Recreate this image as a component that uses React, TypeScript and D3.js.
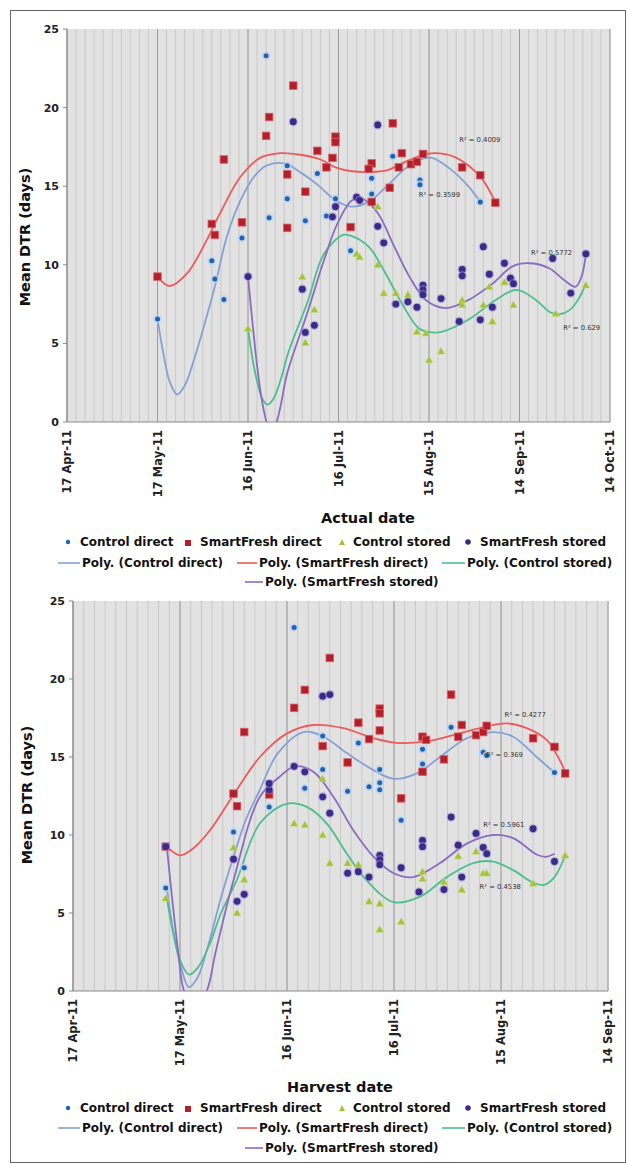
import React from 'react';
import * as d3 from 'd3';

// ---------- shared axis data ----------
const START = new Date(2011, 3, 17); // 17 Apr 2011
const topTickLabels = ['17 Apr-11', '17 May-11', '16 Jun-11', '16 Jul-11', '15 Aug-11', '14 Sep-11', '14 Oct-11'];
const bottomTickLabels = ['17 Apr-11', '17 May-11', '16 Jun-11', '16 Jul-11', '15 Aug-11', '14 Sep-11'];
const yTicks = [0, 5, 10, 15, 20, 25];
const seriesNames = ['Control direct', 'SmartFresh direct', 'Control stored', 'SmartFresh stored'];

// ---------- Actual date chart (days after 17 Apr 2011, mean DTR) ----------
const actualControlDirect = [[30,6.55],[48,10.25],[49,9.1],[52,7.8],[58,11.7],[66,23.3],[67,13.0],[73,16.3],[73,14.2],[79,12.8],[83,15.8],[86,13.1],[89,14.2],[94,10.9],[101,15.5],[101,14.5],[108,16.9],[117,15.4],[117,15.1],[137,14.0]];
const actualSmartDirect = [[30,9.25],[48,12.6],[49,11.9],[52,16.7],[58,12.7],[66,18.2],[67,19.4],[75,21.4],[73,15.75],[73,12.35],[79,14.65],[83,17.25],[86,16.2],[88,16.8],[89,18.15],[89,17.8],[94,12.4],[101,16.45],[100,16.1],[101,14.0],[107,14.9],[108,19.0],[110,16.2],[111,17.1],[114,16.4],[116,16.55],[118,17.05],[131,16.2],[137,15.7],[142,13.95]];
const actualControlStored = [[60,5.95],[78,9.25],[79,5.05],[82,7.15],[96,10.7],[97,10.5],[103,13.7],[103,10.0],[105,8.2],[109,8.2],[113,8.1],[116,5.75],[119,5.65],[120,3.95],[124,4.5],[131,7.75],[131,7.45],[138,7.45],[140,8.6],[141,6.4],[145,8.9],[148,7.45],[162,6.9],[172,8.7]];
const actualSmartStored = [[60,9.25],[75,19.1],[78,8.45],[79,5.7],[82,6.15],[88,13.05],[89,13.7],[96,14.3],[97,14.1],[103,18.9],[103,12.45],[105,11.4],[109,7.5],[113,7.65],[116,7.3],[118,8.7],[118,8.4],[118,8.1],[124,7.85],[130,6.4],[131,9.7],[131,9.3],[137,6.5],[138,11.15],[140,9.4],[141,7.3],[145,10.1],[147,9.15],[148,8.8],[161,10.4],[167,8.2],[172,10.7]];

// polynomial trend curves
const actualTrendControlDirect = [[30,6.55],[32,4.3],[34,2.6],[36.5,1.75],[39,2.3],[42,3.9],[46,6.5],[49,8.6],[53,11.8],[57.5,14.1],[62,15.6],[66,16.3],[72,16.45],[78,15.8],[83,15.1],[89,14.1],[94,13.7],[100,14.0],[106,15.0],[112,16.1],[117,16.7],[121,16.8],[127,16.1],[133,15.0],[137,14.0]];
const actualTrendSmartDirect = [[30,9.25],[34,8.65],[39.8,9.45],[46.4,11.6],[50.8,13.3],[57.5,15.6],[64,16.8],[70.8,17.1],[77.4,17.0],[84,16.7],[89,16.2],[94.5,15.95],[100,15.9],[106,16.0],[111,16.45],[118,17.0],[122,17.1],[128,16.9],[133.5,16.25],[137.8,15.4],[142,14.0]];
const actualTrendControlStored = [[60,5.95],[61.5,4.0],[63,2.6],[64.7,1.5],[66.4,1.1],[68.5,1.5],[71,2.8],[73.5,4.5],[79.6,7.55],[85.2,10.7],[91.5,11.9],[94,11.85],[100,11.15],[105.6,9.45],[111,7.55],[116.7,5.95],[121,5.7],[124.5,5.75],[133,6.5],[142,7.75],[149,8.4],[155.5,7.75],[160,7.0],[163,6.85],[166.5,7.1],[169.5,7.8],[172,8.8]];
const actualTrendSmartStored = [[60,9.25],[61.5,6.3],[63,3.6],[64.5,1.5],[66,0.1],[67.7,-0.8],[69.5,0],[71,1.2],[73,3.1],[79.6,6.9],[85.2,10.3],[89.6,12.6],[94.5,14.1],[98,14.2],[103,13.3],[108.5,11.15],[113.5,9.25],[119,7.75],[125.6,7.25],[133,7.75],[141,8.8],[147.7,9.9],[153,10.1],[159.7,9.8],[165,9.0],[168.5,8.6],[170.5,9.2],[172,10.7]];
const actualR2Text = ['R² = 0.4009', 'R² = 0.3599', 'R² = 0.5772', 'R² = 0.629'];
const actualR2Anchor = [[130,17.8],[116.6,14.3],[153.8,10.6],[164.5,5.85]];

// ---------- Harvest date chart ----------
const harvestControlDirect = [[26,6.6],[45,10.2],[48,7.9],[55,11.8],[62,23.3],[65,13.0],[70,16.35],[70,14.2],[77,12.8],[80,15.9],[83,13.1],[86,14.2],[86,13.35],[86,12.9],[92,10.95],[98,15.5],[98,14.55],[106,16.9],[115,15.3],[116,15.1],[135,14.0]];
const harvestSmartDirect = [[26,9.25],[45,12.65],[46,11.85],[48,16.6],[55,12.6],[62,18.15],[65,19.3],[72,21.35],[70,15.7],[77,14.65],[80,17.2],[83,16.15],[86,18.1],[86,17.8],[86,16.7],[92,12.35],[98,16.3],[99,16.1],[98,14.05],[104,14.85],[106,19.0],[108,16.3],[109,17.05],[113,16.4],[115,16.6],[116,17.0],[129,16.2],[135,15.65],[138,13.95]];
const harvestControlStored = [[26,5.95],[45,9.2],[46,5.0],[48,7.15],[62,10.75],[65,10.65],[70,13.6],[70,10.0],[72,8.2],[77,8.2],[80,8.1],[83,5.75],[86,5.6],[86,3.95],[92,4.45],[98,7.65],[98,7.2],[104,7.0],[108,8.65],[109,6.5],[113,8.95],[115,7.55],[116,7.55],[129,6.9],[138,8.7]];
const harvestSmartStored = [[26,9.25],[45,8.45],[46,5.75],[48,6.2],[55,12.9],[55,13.3],[62,14.4],[65,14.05],[70,18.9],[72,19.0],[70,12.45],[72,11.4],[77,7.55],[80,7.65],[83,7.3],[86,8.7],[86,8.4],[86,8.1],[92,7.9],[97,6.35],[98,9.65],[98,9.25],[104,6.5],[106,11.15],[108,9.35],[109,7.3],[113,10.1],[115,9.2],[116,8.8],[129,10.4],[135,8.3]];

const harvestTrendControlDirect = [[26.3,6.6],[28,4.0],[30,1.8],[32.5,0.25],[35,0.9],[38,3.0],[41.5,6.0],[45,8.6],[48.5,11.0],[52.4,12.9],[57.3,15.2],[64.6,16.6],[70.2,16.3],[76.8,15.25],[84.3,14.15],[89.9,13.6],[96.4,13.95],[102.9,15.0],[110.4,16.2],[117.8,16.6],[123.4,16.3],[130,15.0],[135,14.0]];
const harvestTrendSmartDirect = [[26.3,9.25],[30,8.7],[34,9.2],[38.4,10.3],[45.2,12.65],[52.4,15.0],[59.9,16.5],[67.4,17.05],[75.8,16.85],[84.3,16.2],[90.7,15.9],[99.2,16.0],[106.6,16.4],[114.1,16.85],[121.6,17.15],[127.2,16.85],[132.8,16.1],[136,15.0],[138.2,13.95]];
const harvestTrendControlStored = [[26.3,5.95],[28,3.8],[30,2.0],[32.5,1.05],[35,1.5],[38.4,3.05],[41.5,5.0],[45.9,7.1],[52.4,10.75],[59.9,12.0],[65.5,11.8],[71.1,10.75],[76.8,8.8],[82.3,7.1],[89.9,5.7],[97.3,6.05],[104.8,7.3],[112.2,8.2],[117.8,8.3],[123.4,7.75],[129,6.95],[132,6.8],[135,7.3],[138,8.7]];
const harvestTrendSmartStored = [[26.3,9.25],[28,5.5],[29.5,2.5],[31,0.1],[34,-1.2],[37.5,0],[40,2.5],[45,7.1],[52.4,12.45],[58,13.75],[62.2,14.4],[67.4,14.05],[73,12.45],[78.6,10.3],[84.3,8.6],[89.9,7.55],[95.4,7.3],[102.9,8.2],[110.4,9.45],[117.8,10.0],[123.4,9.8],[130,8.75],[132.5,8.6],[135,8.8]];
const harvestR2Text = ['R² = 0.4277', 'R² = 0.369', 'R² = 0.5961', 'R² = 0.4538'];
const harvestR2Anchor = [[121,17.55],[115.8,15.0],[115,10.5],[114,6.55]];

// ---------- styles ----------
const FONT = '"DejaVu Sans", Verdana, sans-serif';
const markerColor = ['#1f63b5', '#b51f2a', '#a3c23a', '#3a2b8a'];
const trendColor = ['#84a2d6', '#ee5a5a', '#4cbf8f', '#8b6cc0'];

const toDate = (d: number) => new Date(START.getTime() + d * 864e5);

function Marker({ kind, x, y }: { kind: number; x: number; y: number }) {
  if (kind === 0) {
    return (
      <g>
        <circle cx={x} cy={y} r={4.3} fill="#b9d3f2" opacity={0.75} />
        <circle cx={x} cy={y} r={2.5} fill={markerColor[0]} />
      </g>
    );
  }
  if (kind === 1) {
    return <rect x={x - 3.8} y={y - 3.8} width={7.6} height={7.6} fill={markerColor[1]} stroke="#d9656b" strokeWidth={0.8} />;
  }
  if (kind === 2) {
    const s = 3.8;
    return <path d={`M${x},${y - s}L${x + s},${y + s * 0.75}L${x - s},${y + s * 0.75}Z`} fill={markerColor[2]} stroke="#c7dc78" strokeWidth={0.6} />;
  }
  return (
    <g>
      <circle cx={x} cy={y} r={4.6} fill="#9d90d2" opacity={0.6} />
      <circle cx={x} cy={y} r={3.4} fill={markerColor[3]} />
    </g>
  );
}

type Panel = {
  id: string;
  left: number; right: number; top: number; bottom: number;
  nDays: number;
  tickLabels: string[];
  series: number[][][];
  trends: number[][][];
  r2Text: string[];
  r2Anchor: number[][];
  xTitle: string; xTitleX: number; xTitleY: number;
  yTitleX: number; yTitleY: number;
  legendY: number[];
};

function ChartPanel({ p }: { p: Panel }) {
  const x = d3.scaleTime().domain([START, toDate(p.nDays)]).range([p.left, p.right]);
  const y = d3.scaleLinear().domain([0, 25]).range([p.bottom, p.top]);
  const line = d3.line<number[]>()
    .x(d => x(toDate(d[0])))
    .y(d => y(d[1]))
    .curve(d3.curveCatmullRom.alpha(0.5));
  const minor = d3.range(0, p.nDays + 0.1, 3);
  const major = d3.range(0, p.nDays + 0.1, 30);
  const clipId = `clip-${p.id}`;
  const legendRow1 = [
    { m: 68, t: 80 }, { m: 188, t: 200 }, { m: 342, t: 353 }, { m: 468, t: 480 },
  ];
  const legendRow2 = [
    { a: 58, b: 80, t: 82, i: 0 }, { a: 237, b: 257, t: 259, i: 1 }, { a: 442, b: 465, t: 467, i: 2 },
  ];
  return (
    <g>
      <defs>
        <clipPath id={clipId}>
          <rect x={p.left} y={p.top} width={p.right - p.left} height={p.bottom - p.top} />
        </clipPath>
      </defs>
      <rect x={p.left} y={p.top} width={p.right - p.left} height={p.bottom - p.top} fill="#e2e2e2" />
      {minor.map(d => (
        <line key={'mi' + d} x1={x(toDate(d))} x2={x(toDate(d))} y1={p.top} y2={p.bottom} stroke="#c9c9c9" strokeWidth={1} />
      ))}
      {major.map(d => (
        <line key={'ma' + d} x1={x(toDate(d))} x2={x(toDate(d))} y1={p.top} y2={p.bottom} stroke="#9c9c9c" strokeWidth={1} />
      ))}
      <line x1={p.left} x2={p.left} y1={p.top} y2={p.bottom} stroke="#8a8a8a" />
      <line x1={p.left} x2={p.right} y1={p.bottom} y2={p.bottom} stroke="#8a8a8a" />
      {yTicks.map(t => (
        <g key={'yt' + t}>
          <line x1={p.left - 4} x2={p.left} y1={y(t)} y2={y(t)} stroke="#8a8a8a" />
          <text x={p.left - 8} y={y(t)} dy="0.36em" textAnchor="end" fontFamily={FONT} fontWeight="bold" fontSize={11} fill="#222">{t}</text>
        </g>
      ))}
      {major.map((d, i) => (
        <text key={'xt' + d} transform={`translate(${x(toDate(d))},${p.bottom + 8}) rotate(-90)`} dy="0.36em" textAnchor="end"
          fontFamily={FONT} fontWeight="bold" fontSize={11.5} fill="#222">{p.tickLabels[i]}</text>
      ))}
      <g clipPath={`url(#${clipId})`}>
        {p.trends.map((tr, i) => (
          <path key={'tr' + i} d={line(tr) || ''} fill="none" stroke={trendColor[i]} strokeWidth={1.8} />
        ))}
      </g>
      {p.series.map((s, i) => (
        <g key={'s' + i}>
          {s.map((d, j) => <Marker key={j} kind={i} x={x(toDate(d[0]))} y={y(d[1])} />)}
        </g>
      ))}
      {p.r2Text.map((t, i) => (
        <text key={'r2' + i} x={x(toDate(p.r2Anchor[i][0]))} y={y(p.r2Anchor[i][1])} fontFamily={FONT} fontSize={6.8} fill="#333">{t}</text>
      ))}
      <text transform={`translate(${p.yTitleX},${p.yTitleY}) rotate(-90)`} textAnchor="middle" dy="0.36em"
        fontFamily={FONT} fontWeight="bold" fontSize={14.5} fill="#111">Mean DTR (days)</text>
      <text x={p.xTitleX} y={p.xTitleY} dy="0.36em" textAnchor="middle" fontFamily={FONT} fontWeight="bold" fontSize={14.5} fill="#111">{p.xTitle}</text>
      {legendRow1.map((l, i) => (
        <g key={'l1' + i}>
          {i === 0 ? <circle cx={l.m} cy={p.legendY[0]} r={2.2} fill={markerColor[0]} /> :
            i === 1 ? <rect x={l.m - 3} y={p.legendY[0] - 2} width={6} height={6} fill={markerColor[1]} /> :
            i === 2 ? <path d={`M${l.m},${p.legendY[0] - 3}L${l.m + 3},${p.legendY[0] + 3}L${l.m - 3},${p.legendY[0] + 3}Z`} fill={markerColor[2]} /> :
            <circle cx={l.m} cy={p.legendY[0]} r={2.8} fill={markerColor[3]} />}
          <text x={l.t} y={p.legendY[0]} dy="0.36em" fontFamily={FONT} fontWeight="bold" fontSize={12} fill="#111">{seriesNames[i]}</text>
        </g>
      ))}
      {legendRow2.map(l => (
        <g key={'l2' + l.i}>
          <line x1={l.a} x2={l.b} y1={p.legendY[1]} y2={p.legendY[1]} stroke={trendColor[l.i]} strokeWidth={1.6} />
          <text x={l.t} y={p.legendY[1]} dy="0.36em" fontFamily={FONT} fontWeight="bold" fontSize={12} fill="#111">{`Poly. (${seriesNames[l.i]})`}</text>
        </g>
      ))}
      <line x1={245} x2={263} y1={p.legendY[2]} y2={p.legendY[2]} stroke={trendColor[3]} strokeWidth={1.6} />
      <text x={265} y={p.legendY[2]} dy="0.36em" fontFamily={FONT} fontWeight="bold" fontSize={12} fill="#111">{`Poly. (${seriesNames[3]})`}</text>
    </g>
  );
}

const topPanel: Panel = {
  id: 'actual', left: 67, right: 610, top: 29, bottom: 422, nDays: 180,
  tickLabels: topTickLabels,
  series: [actualControlDirect, actualSmartDirect, actualControlStored, actualSmartStored],
  trends: [actualTrendControlDirect, actualTrendSmartDirect, actualTrendControlStored, actualTrendSmartStored],
  r2Text: actualR2Text, r2Anchor: actualR2Anchor,
  xTitle: 'Actual date', xTitleX: 368, xTitleY: 518,
  yTitleX: 25, yTitleY: 237,
  legendY: [542, 563, 582],
};

const bottomPanel: Panel = {
  id: 'harvest', left: 73, right: 608, top: 601, bottom: 991, nDays: 150,
  tickLabels: bottomTickLabels,
  series: [harvestControlDirect, harvestSmartDirect, harvestControlStored, harvestSmartStored],
  trends: [harvestTrendControlDirect, harvestTrendSmartDirect, harvestTrendControlStored, harvestTrendSmartStored],
  r2Text: harvestR2Text, r2Anchor: harvestR2Anchor,
  xTitle: 'Harvest date', xTitleX: 340, xTitleY: 1087,
  yTitleX: 27, yTitleY: 795,
  legendY: [1108, 1128, 1148],
};

export default function App() {
  return (
    <svg width={627} height={1164} style={{ position: 'absolute', left: 0, top: 0, background: '#fff' }}>
      <rect x={0} y={0} width={627} height={1164} fill="#fff" />
      <rect x={10.5} y={10.5} width={615} height={1152} fill="none" stroke="#666" strokeWidth={1} />
      <ChartPanel p={topPanel} />
      <ChartPanel p={bottomPanel} />
    </svg>
  );
}
